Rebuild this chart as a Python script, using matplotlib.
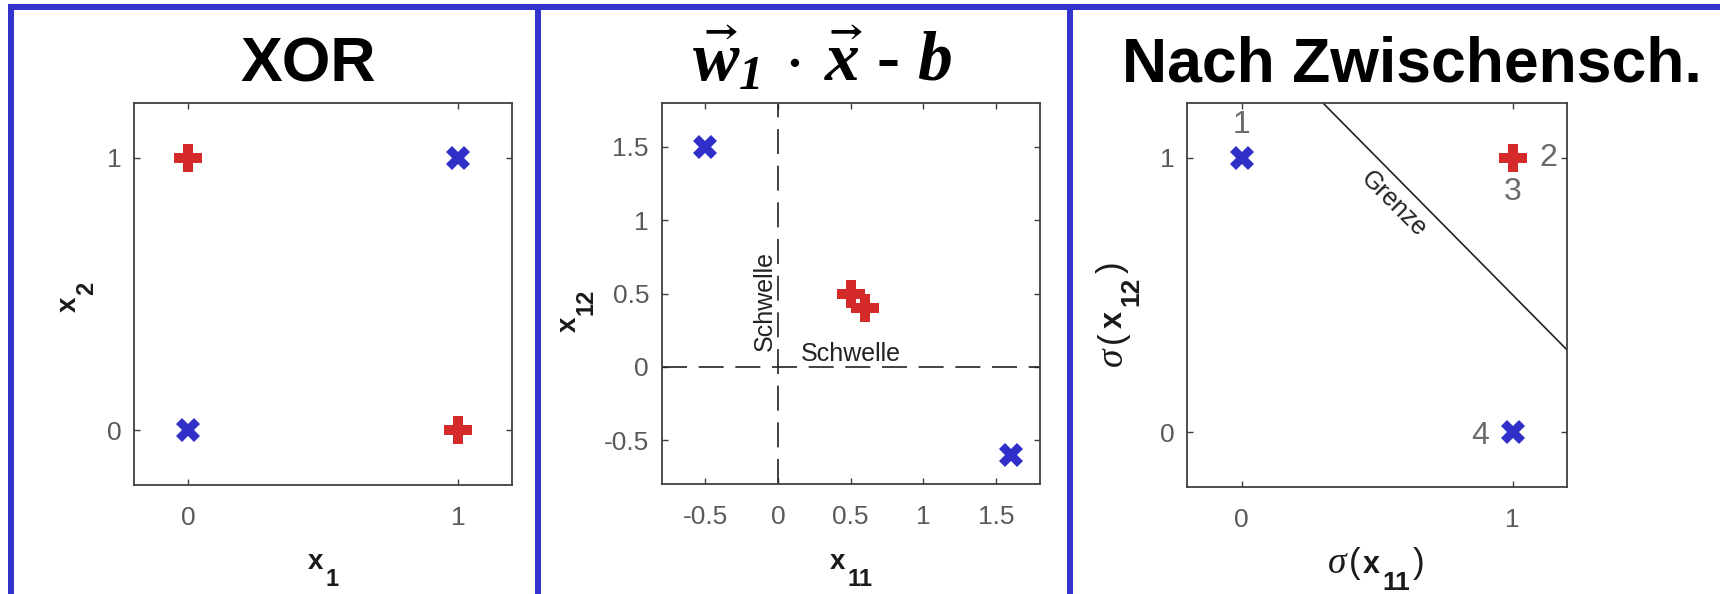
import matplotlib
matplotlib.use("Agg")
import matplotlib.pyplot as plt
from matplotlib.lines import Line2D

# ---------------- data ----------------
xor_red_x = [0, 1]
xor_red_y = [1, 0]
xor_blue_x = [0, 1]
xor_blue_y = [0, 1]

hid_red_x = [0.5, 0.6]
hid_red_y = [0.5, 0.4]
hid_blue_x = [-0.5, 1.6]
hid_blue_y = [1.5, -0.6]

sig_red_x = [1]
sig_red_y = [1]
sig_blue_x = [0, 1]
sig_blue_y = [1, 0]

point_labels = ["1", "2", "3", "4"]
point_label_x = [0.0, 1.13, 1.0, 0.88]
point_label_y = [1.12, 1.0, 0.875, -0.015]

grenze_c = 1.5            # boundary  s11 + s12 = 1.5
grenze_x = [0.3, 1.2]

ticks_01 = [0, 1]
ticks_01_labels = ["0", "1"]
ticks_h = [-0.5, 0, 0.5, 1, 1.5]
ticks_h_labels = ["-0.5", "0", "0.5", "1", "1.5"]

titles = ["XOR", r"$\vec{w}_{\mathbf{1}}\,\cdot\,\vec{x}$ - $b$", "Nach Zwischensch."]

# ---------------- style ----------------
plt.rcParams["mathtext.fontset"] = "custom"
plt.rcParams["mathtext.rm"] = "Liberation Serif:bold"
plt.rcParams["mathtext.it"] = "Liberation Serif:italic:bold"
plt.rcParams["mathtext.bf"] = "Liberation Serif:italic:bold"
plt.rcParams["mathtext.fallback"] = "stix"

W, H = 1720, 594
RED = "#D42A2A"
BLUE = "#3030C8"
FRAME = "#3434CC"
SPINE = "#404040"
TICKC = "#5a5a5a"
LABC = "#1a1a1a"
SANS = "Liberation Sans"
SERIF = "Liberation Serif"

fig = plt.figure(figsize=(W / 100, H / 100), dpi=100)
fig.patch.set_facecolor("white")


def fy(y):
    return H - y


def make_axes(left, right, top, bottom):
    return fig.add_axes([left / W, fy(bottom) / H, (right - left) / W, (bottom - top) / H])


ax1 = make_axes(134, 512, 103, 485)
ax2 = make_axes(661.5, 1039.6, 103, 484)
ax3 = make_axes(1187.4, 1567, 103, 487)

for ax in (ax1, ax2, ax3):
    for s in ax.spines.values():
        s.set_color(SPINE)
        s.set_linewidth(1.3)
    ax.tick_params(direction="in", length=4, width=1, color=SPINE,
                   top=True, right=True, labelsize=19, labelcolor=TICKC)
    ax.tick_params(axis="x", pad=15)
    ax.tick_params(axis="y", pad=9)

mk_red = dict(marker="P", markersize=19.5, color=RED, markeredgewidth=0, linestyle="none")
mk_blue = dict(marker="X", markersize=17.5, color=BLUE, markeredgewidth=0, linestyle="none")

# Panel 1
ax1.plot(xor_red_x, xor_red_y, **mk_red)
ax1.plot(xor_blue_x, xor_blue_y, **mk_blue)
ax1.set_xlim(-0.2, 1.2)
ax1.set_ylim(-0.2, 1.2)
ax1.set_xticks(ticks_01, ticks_01_labels, family=SANS)
ax1.set_yticks(ticks_01, ticks_01_labels, family=SANS)

# Panel 2
ax2.axhline(0, color="#222222", lw=1.2, dashes=(15, 7))
ax2.axvline(0, color="#222222", lw=1.2, dashes=(15, 7))
ax2.plot(hid_red_x, hid_red_y, **mk_red)
ax2.plot(hid_blue_x, hid_blue_y, **mk_blue)
ax2.set_xlim(-0.8, 1.8)
ax2.set_ylim(-0.8, 1.8)
ax2.set_xticks(ticks_h, ticks_h_labels, family=SANS)
ax2.set_yticks(ticks_h, ticks_h_labels, family=SANS)
ax2.text(-0.09, 0.45, "Schwelle", rotation=90, ha="center", va="center",
         fontsize=18, family=SANS, color="#222222")
ax2.text(0.5, 0.09, "Schwelle", ha="center", va="center",
         fontsize=18, family=SANS, color="#222222")

# Panel 3
ax3.plot(grenze_x, [grenze_c - v for v in grenze_x], color="#222222", lw=1.2)
ax3.plot(sig_red_x, sig_red_y, **mk_red)
ax3.plot(sig_blue_x, sig_blue_y, **mk_blue)
ax3.set_xlim(-0.2, 1.2)
ax3.set_ylim(-0.2, 1.2)
ax3.set_xticks(ticks_01, ticks_01_labels, family=SANS)
ax3.set_yticks(ticks_01, ticks_01_labels, family=SANS)
ax3.text(0.562, 0.83, "Grenze", rotation=-45, ha="center", va="center",
         fontsize=18, family=SANS, color="#222222")
for s, px, py in zip(point_labels, point_label_x, point_label_y):
    ax3.text(px, py, s, ha="center", va="center", fontsize=23, family=SANS, color="#6a6a6a")

# ---------------- titles ----------------
fig.text(308 / W, fy(81) / H, titles[0], ha="center", va="baseline",
         fontsize=45, fontweight="bold", family=SANS)
fig.text(1412 / W, fy(81) / H, titles[2], ha="center", va="baseline",
         fontsize=45, fontweight="bold", family=SANS)
fig.text(822 / W, fy(80) / H, titles[1],
         ha="center", va="baseline", fontsize=50, fontweight="bold", family=SERIF)


# ---------------- axis labels (chained pieces) ----------------
def chain(ax, pieces, x0, y0, rot=0, gap=1.5):
    prev = None
    for txt, size, weight, fam, style, drop in pieces:
        kw = dict(fontsize=size, fontweight=weight, family=fam, fontstyle=style,
                  color=LABC, annotation_clip=False, rotation=rot,
                  rotation_mode="anchor", ha="left", va="baseline")
        g = 0 if prev is None else gap
        if rot == 0:
            if prev is None:
                xy, xyc = (x0, fy(y0)), "figure pixels"
            else:
                xy, xyc = (1, fy(y0)), (prev, "figure pixels")
            off = (g, -drop)
        else:
            if prev is None:
                xy, xyc = (x0, fy(y0)), "figure pixels"
            else:
                xy, xyc = (x0, 1), ("figure pixels", prev)
            off = (drop, g)
        prev = ax.annotate(txt, xy=xy, xycoords=xyc, xytext=off,
                           textcoords="offset points", **kw)


def xsub(sub):
    return [("x", 20, "bold", SANS, "normal", 0),
            (sub, 17, "bold", SANS, "normal", 12)]


def sigsub(sub):
    return [("σ", 27, "normal", SERIF, "italic", 0),
            ("(", 25, "normal", SANS, "normal", 0),
            ("x", 22, "bold", SANS, "normal", 0),
            (sub, 19, "bold", SANS, "normal", 12),
            (")", 25, "normal", SANS, "normal", 0)]


chain(ax1, xsub("1"), 308, 569)
chain(ax1, xsub("2"), 76, 312, rot=90)
chain(ax2, xsub("11"), 830, 569)
chain(ax2, xsub("12"), 576, 332, rot=90)
chain(ax3, sigsub("11"), 1328, 573, gap=1.8)
chain(ax3, sigsub("12"), 1122, 366, rot=90, gap=3.0)

# ---------------- blue panel frames ----------------
lw_frame = 6 * 72 / 100
top_y = fy(7) / H
fig.add_artist(Line2D([8 / W, 1.0], [top_y, top_y], transform=fig.transFigure,
                      color=FRAME, lw=lw_frame, solid_capstyle="butt"))
for xv in (11, 538, 1070):
    fig.add_artist(Line2D([xv / W, xv / W], [0, fy(4) / H], transform=fig.transFigure,
                          color=FRAME, lw=lw_frame, solid_capstyle="butt"))

fig.savefig("out.png", dpi=100, facecolor="white")
